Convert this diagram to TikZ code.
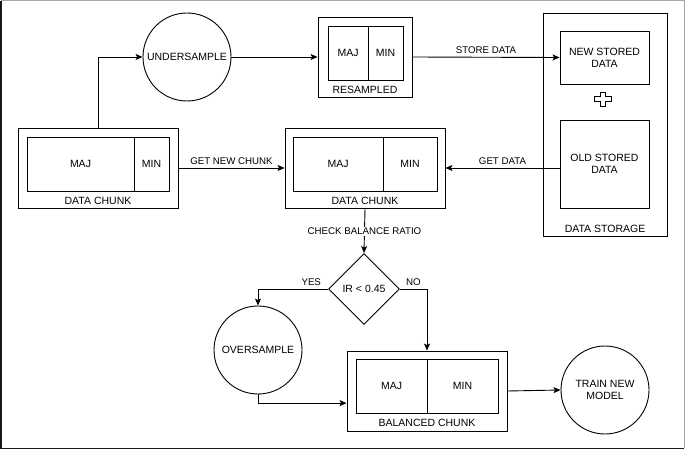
\documentclass[tikz,border=0pt]{standalone}
\usepackage{fontspec}
\setmainfont{Liberation Sans}
\usetikzlibrary{arrows.meta,shapes.geometric,calc}
\begin{document}
\begin{tikzpicture}[x=1pt,y=-1pt,
  font=\fontsize{10.5}{12}\selectfont,
  line width=0.9pt,
  box/.style={draw, rectangle, inner sep=0pt},
  cell/.style={draw, rectangle, inner sep=0pt, minimum height=54pt},
  circ/.style={draw, circle, minimum size=88pt, inner sep=0pt, align=center},
  lbl/.style={inner sep=1pt, align=center},
  elbl/.style={inner sep=1pt, align=center, font=\fontsize{9.7}{11}\selectfont},
  arr/.style={-{Stealth[length=7pt,width=6pt,inset=1.5pt]}},
]
\useasboundingbox (0,0) rectangle (685,449);
% outer frame
\draw[line width=1.2pt, gray!70] (0.6,0.6) -- (684.4,0.6) -- (684.4,448.4);
\draw[line width=1.5pt, black!90] (0.75,0.6) -- (0.75,448.25) -- (684.4,448.25);

% data chunk (left)
\node[box, minimum width=160pt, minimum height=80pt] (dc1) at (98,168) {};
\node[cell, minimum width=107pt] (dc1maj) at (80.5,164) {MAJ};
\node[cell, minimum width=35pt] (dc1min) at (151.5,164) {MIN};
\node[lbl] (dc1l) at (98,201) {DATA CHUNK};

% data chunk (middle)
\node[box, minimum width=160pt, minimum height=80pt] (dc2) at (365,168) {};
\node[cell, minimum width=90pt] (dc2maj) at (338,164) {MAJ};
\node[cell, minimum width=54pt] (dc2min) at (410,164) {MIN};
\node[lbl] (dc2l) at (365,201) {DATA CHUNK};

% resampled
\node[box, minimum width=94pt, minimum height=80pt] (res) at (365,57) {};
\node[cell, minimum width=40pt] (resmaj) at (348,53) {MAJ};
\node[cell, minimum width=35pt] (resmin) at (385.5,53) {MIN};
\node[lbl] (resl) at (365,90) {RESAMPLED};

% balanced chunk
\node[box, minimum width=160pt, minimum height=80pt] (bal) at (427,391) {};
\node[cell, minimum width=71pt] (balmaj) at (391.5,386) {MAJ};
\node[cell, minimum width=71pt] (balmin) at (462.5,386) {MIN};
\node[lbl] (ball) at (427,423) {BALANCED CHUNK};

% data storage
\node[box, minimum width=124pt, minimum height=223pt] (ds) at (605,124.5) {};
\node[lbl] (dsl) at (605,229) {DATA STORAGE};
\node[box, minimum width=89pt, minimum height=53pt, align=center] (new) at (604.5,57.5) {NEW STORED\\DATA};
\node[box, minimum width=89pt, minimum height=88pt, align=center] (old) at (604.5,164) {OLD STORED\\DATA};
\draw[line width=0.8pt] (600.5,92) -- (605.5,92) -- (605.5,96.5) -- (611.5,96.5) -- (611.5,101.5) -- (605.5,101.5) -- (605.5,106)
  -- (600.5,106) -- (600.5,101.5) -- (594.5,101.5) -- (594.5,96.5) -- (600.5,96.5) -- cycle;

% circles and diamond
\node[circ] (under) at (187,57) {UNDERSAMPLE};
\node[circ] (over) at (258,350) {OVERSAMPLE};
\node[circ] (train) at (605,390) {TRAIN NEW\\MODEL};
\node[draw, diamond, minimum width=71pt, minimum height=71pt, inner sep=0pt, aspect=1] (dia) at (364,289) {IR < 0.45};

% connectors
\draw[arr] (dc1.north) |- (under.west);
\draw[arr] (under.east) -- (res.west);
\draw[arr] (res.east) -- node[elbl, above=2pt] {STORE DATA} (new.west);
\draw[arr] (dc1.east) -- node[elbl, above=2pt] {GET NEW CHUNK} (dc2.west);
\draw[arr] (old.west |- dc2.east) -- node[elbl, above=2pt] {GET DATA} (dc2.east);
\draw[arr] (dc2.south) -- node[elbl, fill=white, pos=0.52] {CHECK BALANCE RATIO} (dia.north);
\draw[arr] (dia.west) -| node[elbl, above=2pt, pos=0.12] {YES} (over.north);
\draw[arr] (dia.east) -| node[elbl, above=2pt, pos=0.25] {NO} (bal.north);
\draw[arr] (over.south) |- ($(bal.south west)!0.35!(bal.north west)$);
\draw[arr] (bal.east) -- (train.west);
\end{tikzpicture}
\end{document}
